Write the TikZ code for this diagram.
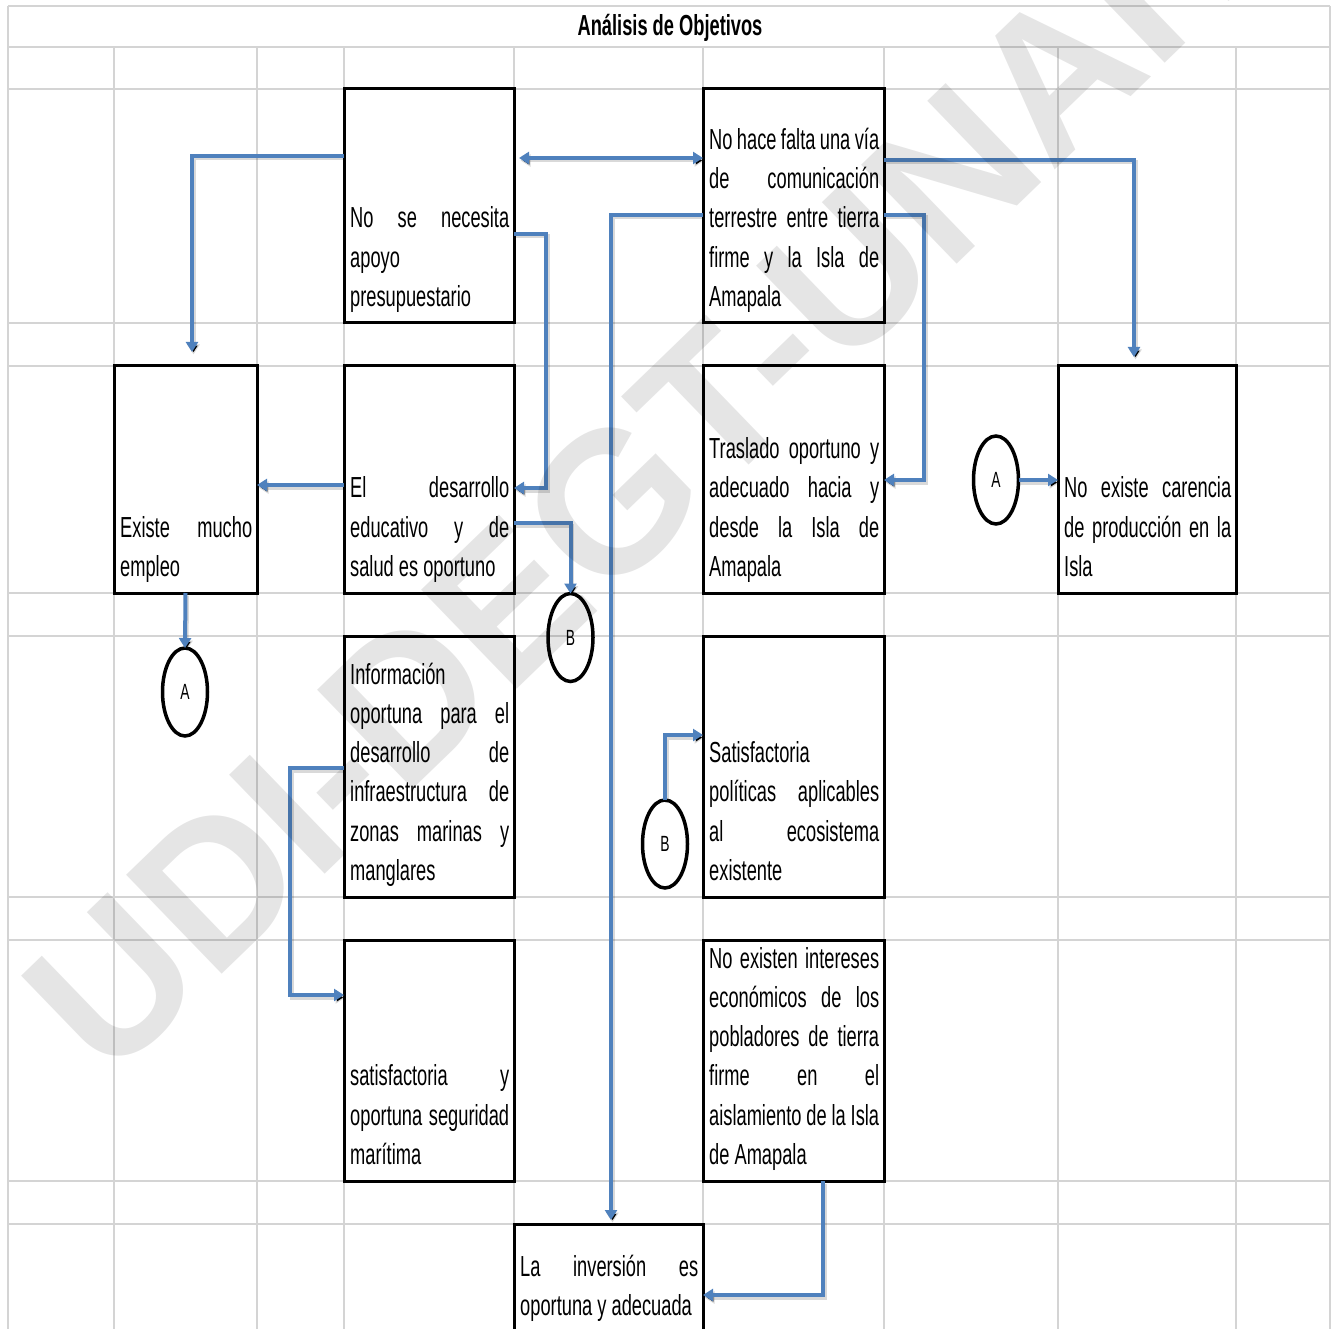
\documentclass[tikz,border=0pt]{standalone}
\usepackage{fontspec}
\setmainfont{Liberation Sans}[FakeStretch=0.63]
\newfontfamily\wmfont{Liberation Sans}
\usetikzlibrary{arrows.meta,calc,shapes.geometric}
\definecolor{gridgray}{HTML}{D4D4D4}
\definecolor{linkblue}{HTML}{4F81BD}
% one justified line of a cell text
\newcommand\J[1]{\makebox[\linewidth][s]{#1}\\}

\begin{document}
\begin{tikzpicture}[x=1pt,y=-1pt,
  cell/.style={draw=gridgray,line width=1.8pt},
  box/.style={draw=black,line width=3pt,inner sep=0pt,outer sep=0pt,anchor=north west},
  txt/.style={inner sep=0pt,anchor=base west,font=\fontsize{29}{39.3}\selectfont},
  bubble/.style={ellipse,draw=black,line width=3.5pt,inner sep=0pt,outer sep=0pt,
    minimum width=45pt,minimum height=88pt,font=\fontsize{22}{22}\selectfont},
  link/.style={draw=linkblue,line width=4pt,-{Triangle[length=10pt,width=12pt]},
    preaction={draw=black,draw opacity=0.15,line width=4pt,
      transform canvas={xshift=1.5pt,yshift=-2.5pt}}},
  heading/.style={anchor=base,font=\bfseries\fontsize{29}{35}\selectfont},
  wm/.style={anchor=base west,rotate=44,inner sep=0pt,
    font=\wmfont\bfseries\fontsize{200}{200}\selectfont,text=black,text opacity=0.1}
]
\useasboundingbox (0,0) rectangle (1336,1329);
\clip (0,0) rectangle (1336,1329);

% spreadsheet grid
\foreach \yy in {6,47,89,323,366,593,636,897,940,1181,1224}
  \draw[cell] (8,\yy) -- (1330,\yy);
\draw[cell] (8,6) -- (8,1335);
\draw[cell] (1330,6) -- (1330,1335);
\foreach \xx in {114,257,344,514,703,884,1058,1236}
  \draw[cell] (\xx,47) -- (\xx,1335);

% title
\node[heading] (title) at (670,36) {Análisis de Objetivos};

% boxes
\node[box,minimum width=170pt,minimum height=234pt] (b1) at (344,89) {};
\node[box,minimum width=181pt,minimum height=234pt] (b2) at (703,89) {};
\node[box,minimum width=143pt,minimum height=227pt] (b3) at (114,366) {};
\node[box,minimum width=170pt,minimum height=227pt] (b4) at (344,366) {};
\node[box,minimum width=181pt,minimum height=227pt] (b5) at (703,366) {};
\node[box,minimum width=178pt,minimum height=227pt] (b6) at (1058,366) {};
\node[box,minimum width=170pt,minimum height=261pt] (b7) at (344,636) {};
\node[box,minimum width=181pt,minimum height=261pt] (b8) at (703,636) {};
\node[box,minimum width=170pt,minimum height=241pt] (b9) at (344,940) {};
\node[box,minimum width=181pt,minimum height=241pt] (b10) at (703,940) {};
\node[box,minimum width=189pt,minimum height=108pt] (b11) at (514,1224) {};

% cell texts, bottom aligned and justified
\node[txt] (t1) at ($(b1.south west)+(6,-16.5)$) {\parbox[b]{159pt}{\J{No se necesita}apoyo\\presupuestario}};
\node[txt] (t2) at ($(b2.south west)+(6,-16.5)$) {\parbox[b]{170pt}{\J{No hace falta una vía}\J{de comunicación}\J{terrestre entre tierra}\J{firme y la Isla de}Amapala}};
\node[txt] (t3) at ($(b3.south west)+(6,-16.5)$) {\parbox[b]{132pt}{\J{Existe mucho}empleo}};
\node[txt] (t4) at ($(b4.south west)+(6,-16.5)$) {\parbox[b]{159pt}{\J{El desarrollo}\J{educativo y de}salud es oportuno}};
\node[txt] (t5) at ($(b5.south west)+(6,-16.5)$) {\parbox[b]{170pt}{\J{Traslado oportuno y}\J{adecuado hacia y}\J{desde la Isla de}Amapala}};
\node[txt] (t6) at ($(b6.south west)+(6,-16.5)$) {\parbox[b]{167pt}{\J{No existe carencia}\J{de producción en la}Isla}};
\node[txt] (t7) at ($(b7.south west)+(6,-16.5)$) {\parbox[b]{159pt}{Información\\\J{oportuna para el}\J{desarrollo de}\J{infraestructura de}\J{zonas marinas y}manglares}};
\node[txt] (t8) at ($(b8.south west)+(6,-16.5)$) {\parbox[b]{170pt}{Satisfactoria\\\J{políticas aplicables}\J{al ecosistema}existente}};
\node[txt] (t9) at ($(b9.south west)+(6,-16.5)$) {\parbox[b]{159pt}{\J{satisfactoria y}\J{oportuna seguridad}marítima}};
\node[txt] (t10) at ($(b10.south west)+(6,-16.5)$) {\parbox[b]{170pt}{\J{No existen intereses}\J{económicos de los}\J{pobladores de tierra}\J{firme en el}\J{aislamiento de la Isla}de Amapala}};
\node[txt] (t11) at ($(b11.south west)+(6,-16.5)$) {\parbox[b]{178pt}{\J{La inversión es}oportuna y adecuada}};

% connector circles
\node[bubble] (A1) at (185,692) {A};
\node[bubble] (B1) at (570.5,637.5) {B};
\node[bubble] (A2) at (996,480) {A};
\node[bubble] (B2) at (665,844) {B};

% connectors
\draw[link] (b1.west |- 0,156) -| ([xshift=6.5pt,yshift=14pt]b3.north);
\draw[link,{Triangle[length=10pt,width=12pt]}-{Triangle[length=10pt,width=12pt]}]
  ($(b1.east |- 0,158)+(5,0)$) -- (b2.west |- 0,158);
\draw[link] (b1.east |- 0,234) -- ++(32,0) |- (b4.east |- 0,488);
\draw[link] (b2.west |- 0,215) -| ([xshift=2.5pt,yshift=4pt]b11.north);
\draw[link] (b2.east |- 0,160) -| ([xshift=-13pt,yshift=9pt]b6.north);
\draw[link] (b2.east |- 0,215) -- ++(40,0) |- (b5.east |- 0,480);
\draw[link] (b3.south) -- (A1.north);
\draw[link] (b4.west |- 0,485) -- (b3.east |- 0,485);
\draw[link] (b4.east |- 0,523) -| (B1.north);
\draw[link] (A2.east) -- (b6.west |- A2.east);
\draw[link] (B2.north) |- (b8.west |- 0,735);
\draw[link] (b7.west |- 0,768) -- ++(-54,0) |- (b9.west |- 0,995);
\draw[link] (b10.south -| 823,0) |- (b11.east |- 0,1295);

% watermark
\node[wm] (wmark) at (108,1084) {UDI-DEGT-UNAH};
\end{tikzpicture}
\end{document}
